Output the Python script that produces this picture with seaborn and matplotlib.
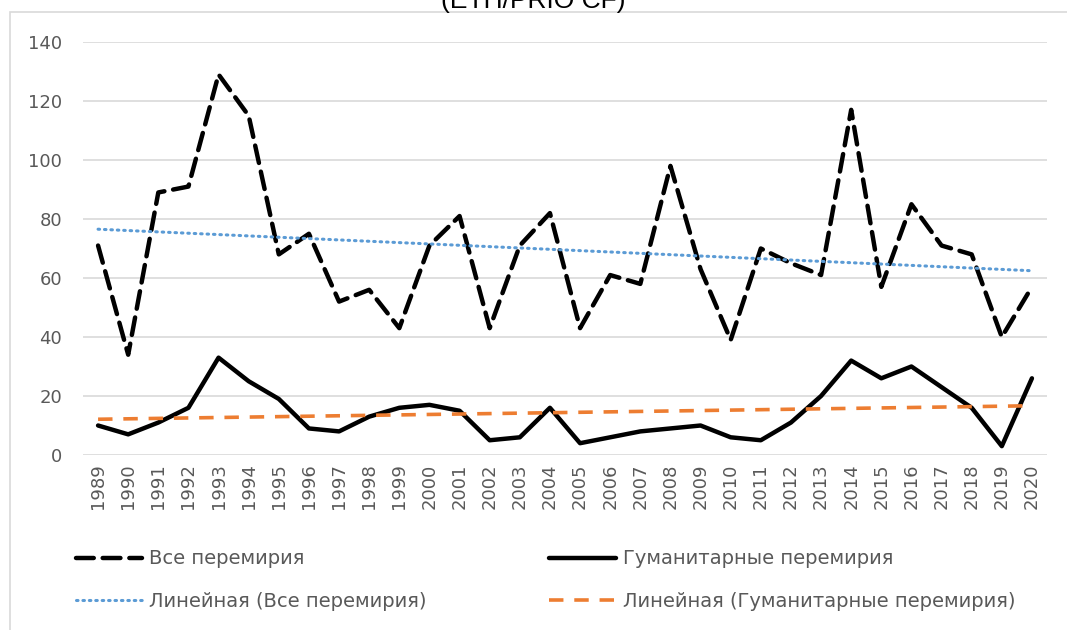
import matplotlib
matplotlib.use("Agg")
import matplotlib.pyplot as plt
import seaborn as sns
import pandas as pd
from matplotlib.patches import Rectangle

# данные
years = list(range(1989, 2021))
all_ceasefires = [71, 34, 89, 91, 129, 115, 68, 75, 52, 56, 43, 71, 81, 43, 71, 82,
                  43, 61, 58, 98, 63, 39, 70, 65, 61, 117, 57, 85, 71, 68, 40, 57]
humanitarian = [10, 7, 11, 16, 33, 25, 19, 9, 8, 13, 16, 17, 15, 5, 6, 16,
                4, 6, 8, 9, 10, 6, 5, 11, 20, 32, 26, 30, 23, 16, 3, 26]
yticks = [0, 20, 40, 60, 80, 100, 120, 140]

label_all = "Все перемирия"
label_hum = "Гуманитарные перемирия"
label_trend_all = "Линейная (Все перемирия)"
label_trend_hum = "Линейная (Гуманитарные перемирия)"

df = pd.DataFrame({"year": years, "all": all_ceasefires, "hum": humanitarian})

sns.set_style("white")
plt.rcParams['font.family'] = ['DejaVu Sans']
grey = "#595959"

fig = plt.figure(figsize=(10.67, 6.3), dpi=100)
ax = fig.add_axes([83 / 1067, 1 - 455 / 630, 964 / 1067, 413 / 630])

sns.lineplot(data=df, x="year", y="all", ax=ax, color="black", linewidth=3.2)
line_all = ax.lines[-1]
line_all.set_dashes((4, 2))
line_all.set_dash_capstyle("round")
sns.lineplot(data=df, x="year", y="hum", ax=ax, color="black", linewidth=3.2)
line_hum = ax.lines[-1]
sns.regplot(data=df, x="year", y="all", ax=ax, scatter=False, ci=None,
            line_kws=dict(color="#5B9BD5", linewidth=2.2, linestyle=(0, (0.5, 1.6)),
                          dash_capstyle="round"))
trend_all = ax.lines[-1]
sns.regplot(data=df, x="year", y="hum", ax=ax, scatter=False, ci=None,
            line_kws=dict(color="#ED7D31", linewidth=2.6, linestyle=(0, (4, 3))))
trend_hum = ax.lines[-1]

ax.set_xlim(years[0] - 0.5, years[-1] + 0.5)
ax.set_ylim(0, 140)
ax.set_yticks(yticks)
ax.set_xticks(years)
ax.set_xticklabels([str(y) for y in years], rotation=90)
ax.tick_params(axis="y", length=0, labelsize=13, colors=grey, pad=15)
ax.tick_params(axis="x", length=0, labelsize=13, colors=grey, pad=6)
ax.set_xlabel("")
ax.set_ylabel("")
for s in ax.spines.values():
    s.set_visible(False)
ax.grid(axis="y", color="#d9d9d9", linewidth=1.2)
ax.set_axisbelow(True)

# порядок: по столбцам (matplotlib заполняет столбцы первыми)
leg = fig.legend([line_all, trend_all, line_hum, trend_hum],
                 [label_all, label_trend_all, label_hum, label_trend_hum],
                 ncol=2, loc="upper left", bbox_to_anchor=(58 / 1067, 1 - 532 / 630),
                 frameon=False, fontsize=14, handlelength=3.4, handletextpad=0.4,
                 columnspacing=6.3, labelspacing=1.2, labelcolor=grey)

# рамка области диаграммы
fig.patches.append(Rectangle((10 / 1067, -0.05), 1.1, 1 - 12 / 630 + 0.05,
                             transform=fig.transFigure, fill=False,
                             edgecolor="#d9d9d9", linewidth=1.2))

fig.text(0.5, 1 - 8 / 630, "(ETH/PRIO CF)", ha="center", va="baseline",
         fontsize=19, family=["Liberation Sans", "DejaVu Sans"], color="black")

fig.savefig("out.png", dpi=100)
